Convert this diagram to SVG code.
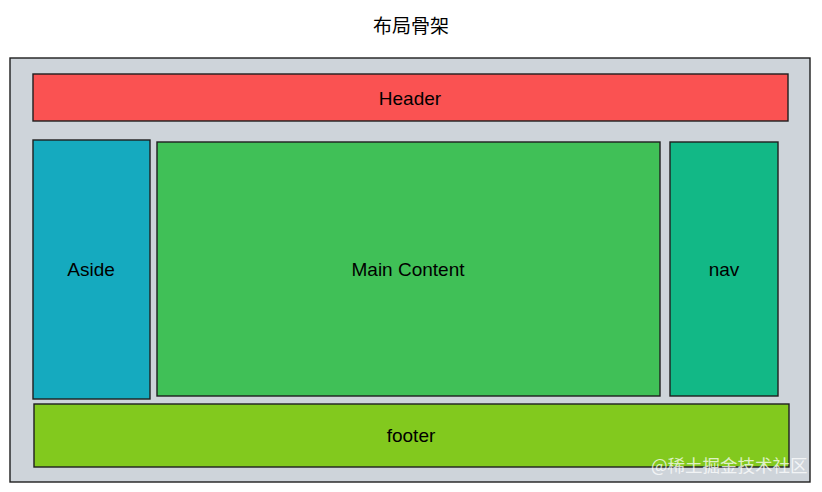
<svg xmlns="http://www.w3.org/2000/svg" width="822" height="492" viewBox="0 0 822 492">
<style>
.b{stroke:#1e1e1e;stroke-width:1.4;}
.t{font-family:"Liberation Sans",Arial,sans-serif;font-size:19px;fill:#000;text-anchor:middle;dominant-baseline:central;}
</style>
<rect width="822" height="492" fill="#fff"/>
<text class="t" x="411" y="24" style="font-family:'Noto Sans CJK SC',sans-serif;font-size:19px">布局骨架</text>
<g id="container"><rect class="b" x="10" y="58" width="800" height="424" fill="#ced4da"/></g>
<g id="header"><rect class="b" x="33" y="74" width="755" height="47" fill="#fa5252"/><text class="t" x="410" y="98">Header</text></g>
<g id="aside"><rect class="b" x="33" y="140" width="117" height="259" fill="#15aabf"/><text class="t" x="91" y="269">Aside</text></g>
<g id="main"><rect class="b" x="157" y="142" width="503" height="254" fill="#40c057"/><text class="t" x="408" y="269">Main Content</text></g>
<g id="nav"><rect class="b" x="670" y="142" width="108" height="254" fill="#12b886"/><text class="t" x="724" y="269">nav</text></g>
<g id="footer"><rect class="b" x="34" y="404" width="755" height="63" fill="#82c91e"/><text class="t" x="411" y="435">footer</text></g>
<g id="connectors"></g>
<text x="651" y="472" style="font-family:'Noto Sans CJK SC',sans-serif;font-size:17.5px;fill:#ffffff;fill-opacity:0.75">@稀土掘金技术社区</text>
</svg>
